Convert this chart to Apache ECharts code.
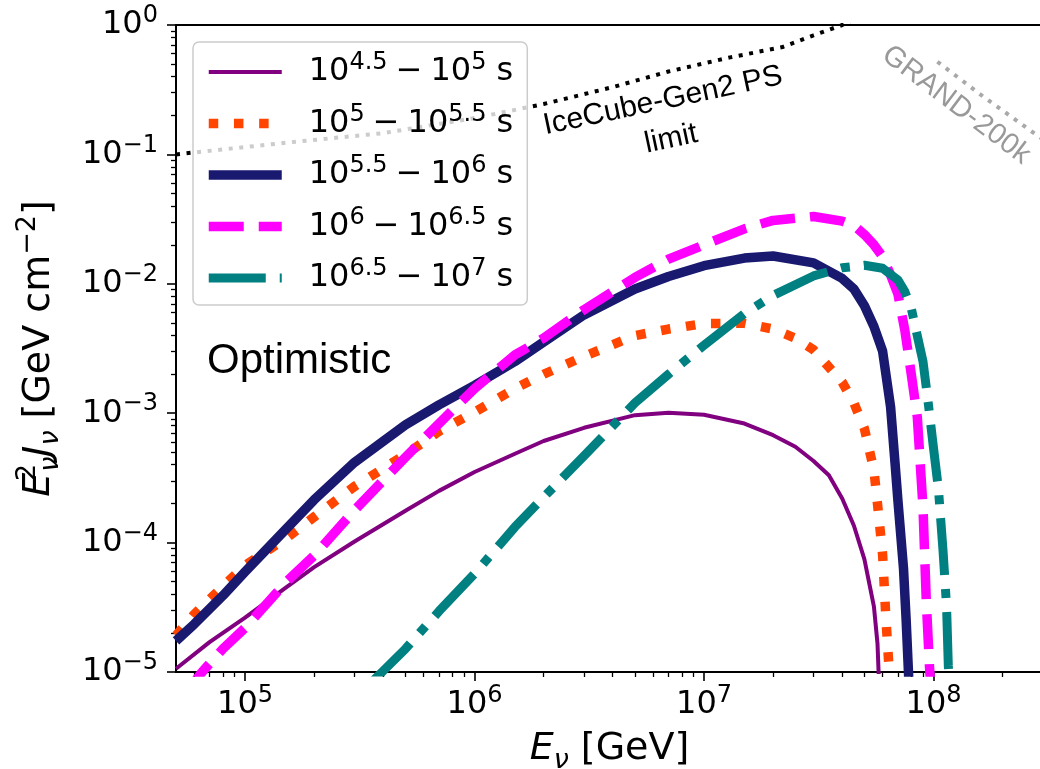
<!doctype html>
<html>
<head>
<meta charset="UTF-8">
<title>Optimistic</title>
<script src="https://cdn.jsdelivr.net/npm/echarts@6/dist/echarts.min.js"></script>
<style>
  html, body { margin: 0; padding: 0; background: #fff; }
  #main { width: 1040px; height: 769px; }
</style>
</head>
<body>
<div id="main"></div>
<script>
// energies in GeV, fluxes E^2 J in GeV cm^-2
var ePurple = [5e4, 7e4, 1e5, 1.5e5, 2e5, 3e5, 5e5, 7e5, 1e6, 1.5e6, 2e6, 3e6, 5e6, 7e6, 1e7, 1.5e7, 2e7, 2.5e7, 3e7, 3.5e7, 4e7, 4.5e7, 5e7, 5.5e7, 5.7e7, 5.8e7];
var fPurple = [1.06e-5, 1.70e-5, 2.63e-5, 4.47e-5, 6.46e-5, 1.02e-4, 1.76e-4, 2.51e-4, 3.51e-4, 4.86e-4, 6.10e-4, 7.71e-4, 9.66e-4, 1.01e-3, 9.72e-4, 8.32e-4, 6.76e-4, 5.5e-4, 4.27e-4, 3.31e-4, 2.19e-4, 1.35e-4, 7.41e-5, 3.2e-5, 1.66e-5, 7.5e-6];

var eOrange = [5e4, 6e4, 8e4, 1e5, 1.5e5, 2e5, 3e5, 5e5, 7e5, 1e6, 1.5e6, 2e6, 3e6, 5e6, 7e6, 1e7, 1.5e7, 2e7, 2.5e7, 3e7, 4e7, 4.5e7, 5e7, 5.5e7, 5.7e7, 6e7, 6.2e7, 6.4e7, 6.5e7];
var fOrange = [1.91e-5, 2.79e-5, 4.57e-5, 6.68e-5, 1.07e-4, 1.58e-4, 2.72e-4, 4.79e-4, 7.24e-4, 1.02e-3, 1.55e-3, 2.0e-3, 2.75e-3, 3.98e-3, 4.47e-3, 4.93e-3, 4.95e-3, 4.47e-3, 3.8e-3, 3.09e-3, 1.74e-3, 1.2e-3, 7.59e-4, 3.63e-4, 2.0e-4, 8.1e-5, 2.63e-5, 1.07e-5, 6.3e-6];

var eNavy = [5e4, 6e4, 8e4, 1e5, 1.5e5, 2e5, 3e5, 5e5, 7e5, 1e6, 1.5e6, 2e6, 3e6, 5e6, 7e6, 1e7, 1.5e7, 2e7, 3e7, 4e7, 4.5e7, 5e7, 5.5e7, 6e7, 6.5e7, 6.8e7, 7e7, 7.4e7, 7.6e7, 7.8e7];
var fNavy = [1.74e-5, 2.34e-5, 3.89e-5, 5.96e-5, 1.26e-4, 2.14e-4, 4.17e-4, 8.13e-4, 1.16e-3, 1.64e-3, 2.51e-3, 3.55e-3, 5.75e-3, 9.12e-3, 1.14e-2, 1.38e-2, 1.58e-2, 1.64e-2, 1.45e-2, 1.10e-2, 9.12e-3, 6.76e-3, 4.68e-3, 3.02e-3, 1.12e-3, 4.07e-4, 2.09e-4, 6.31e-5, 2.51e-5, 8.9e-6];

var eMagenta = [5.6e4, 6.5e4, 8e4, 1e5, 1.5e5, 2e5, 3e5, 5e5, 7e5, 1e6, 1.5e6, 2e6, 3e6, 5e6, 7e6, 1e7, 1.5e7, 2e7, 3e7, 4e7, 4.5e7, 5e7, 5.5e7, 6e7, 6.5e7, 7e7, 7.5e7, 8e7, 8.5e7, 9e7, 9.3e7, 9.6e7, 9.8e7];
var fMagenta = [7.1e-6, 1.0e-5, 1.51e-5, 2.19e-5, 4.9e-5, 7.94e-5, 1.78e-4, 4.57e-4, 8.32e-4, 1.55e-3, 2.82e-3, 3.80e-3, 6.31e-3, 1.12e-2, 1.55e-2, 2.0e-2, 2.66e-2, 3.09e-2, 3.31e-2, 3.05e-2, 2.82e-2, 2.40e-2, 2.0e-2, 1.62e-2, 1.17e-2, 8.32e-3, 4.37e-3, 2.0e-3, 9.33e-4, 1.86e-4, 3.55e-5, 1.12e-5, 6.3e-6];

var eTeal = [3.5e5, 4e5, 5e5, 7e5, 1e6, 1.5e6, 2e6, 3e6, 5e6, 7e6, 1e7, 1.5e7, 2e7, 3e7, 4e7, 5e7, 6e7, 7e7, 7.5e7, 8e7, 9e7, 9.5e7, 1e8, 1.05e8, 1.1e8, 1.14e8, 1.16e8, 1.18e8];
var fTeal = [8.1e-6, 1.02e-5, 1.51e-5, 2.95e-5, 5.75e-5, 1.32e-4, 2.24e-4, 4.68e-4, 1.20e-3, 2.0e-3, 3.35e-3, 5.89e-3, 8.13e-3, 1.15e-2, 1.33e-2, 1.39e-2, 1.32e-2, 1.07e-2, 8.7e-3, 6.46e-3, 2.51e-3, 1.17e-3, 5.37e-4, 2.63e-4, 8.71e-5, 3.2e-5, 1.12e-5, 6.3e-6];

// sensitivity curves
var eIceCube = [5e4, 1.5e5, 4e5, 1e6, 2e6, 4e6, 7e6, 1.3e7, 2.2e7, 3e7, 4e7, 4.5e7];
var fIceCube = [0.100, 0.123, 0.146, 0.191, 0.245, 0.331, 0.437, 0.562, 0.676, 0.832, 1.0, 1.1];
var eGrand = [1.04e8, 1.65e8, 2.9e8, 3.1e8];
var fGrand = [0.52, 0.279, 0.136, 0.126];

// legend entries: [10^a, 10^b] time windows
var seriesNames = ['t1', 't2', 't3', 't4', 't5'];
var windowFrom = ['4.5', '5', '5.5', '6', '6.5'];
var windowTo = ['5', '5.5', '6', '6.5', '7'];

// ticks
var xMajor = [1e5, 1e6, 1e7, 1e8];
var xMinor = [6e4, 7e4, 8e4, 9e4, 2e5, 3e5, 4e5, 5e5, 6e5, 7e5, 8e5, 9e5, 2e6, 3e6, 4e6, 5e6, 6e6, 7e6, 8e6, 9e6,
  2e7, 3e7, 4e7, 5e7, 6e7, 7e7, 8e7, 9e7, 2e8];
var yMajor = [1e-5, 1e-4, 1e-3, 1e-2, 1e-1, 1];
var yMinor = [2e-5, 3e-5, 4e-5, 5e-5, 6e-5, 7e-5, 8e-5, 9e-5, 2e-4, 3e-4, 4e-4, 5e-4, 6e-4, 7e-4, 8e-4, 9e-4,
  2e-3, 3e-3, 4e-3, 5e-3, 6e-3, 7e-3, 8e-3, 9e-3, 2e-2, 3e-2, 4e-2, 5e-2, 6e-2, 7e-2, 8e-2, 9e-2,
  0.2, 0.3, 0.4, 0.5, 0.6, 0.7, 0.8, 0.9];

var FONT = 'DejaVu Sans';

var tickRich = {
  b: { fontFamily: FONT, fontSize: 32, lineHeight: 42, color: '#000' },
  s: { fontFamily: FONT, fontSize: 24, lineHeight: 24, verticalAlign: 'top', color: '#000' }
};
var nameRich = {
  n: { fontFamily: FONT, fontSize: 38, lineHeight: 50, color: '#000' },
  i: { fontFamily: FONT, fontStyle: 'italic', fontSize: 38, lineHeight: 50, color: '#000' },
  sp: { fontFamily: FONT, fontSize: 27, lineHeight: 27, verticalAlign: 'top', color: '#000' },
  sp0: { fontFamily: FONT, fontSize: 27, lineHeight: 27, verticalAlign: 'top', color: '#000', width: 1 },
  sb: { fontFamily: FONT, fontStyle: 'italic', fontSize: 27, lineHeight: 27, verticalAlign: 'bottom', color: '#000' }
};
var legendRich = {
  g: { width: 22 },
  b: { fontFamily: FONT, fontSize: 32, lineHeight: 42, color: '#000' },
  s: { fontFamily: FONT, fontSize: 24, lineHeight: 24, verticalAlign: 'top', color: '#000' }
};

function powLabel(v) {
  var p = Math.round(Math.log10(v));
  return '{b|10}{s|' + (p < 0 ? '\u2212' + (-p) : p) + '}';
}

function line(name, e, f, color, width, dash) {
  return {
    type: 'line', name: name,
    data: e.map(function (x, i) { return [x, f[i]]; }),
    symbol: 'none', showSymbol: false,
    smooth: false,
    lineStyle: { color: color, width: width, type: dash, cap: 'butt', join: 'round' },
    itemStyle: { color: color },
    silent: true, clip: true
  };
}

var styles = [
  { color: '#800080', width: 4, type: 'solid' },
  { color: '#ff4500', width: 9.5, type: [9.5, 15.7] },
  { color: '#191970', width: 9.5, type: 'solid' },
  { color: '#ff00ff', width: 9.5, type: [35, 15] },
  { color: '#008080', width: 9, type: [57, 14, 9, 14] }
];

var chart = echarts.init(document.getElementById('main'));
var option = {
  animation: false,
  backgroundColor: '#fff',
  grid: [
    { left: 176, top: 25, right: -3, bottom: 97, show: true, borderColor: '#000', borderWidth: 2, backgroundColor: 'transparent', outerBoundsMode: 'none' },
    { left: 176, top: 25, right: -3, bottom: 97, outerBoundsMode: 'none' }
  ],
  xAxis: [
    {
      type: 'log', gridIndex: 0, min: 5e4, max: 3e8, position: 'bottom',
      axisLine: { show: false },
      axisTick: { show: true, inside: false, length: 9, lineStyle: { color: '#000', width: 1.6 }, customValues: xMajor },
      axisLabel: { customValues: xMajor, formatter: powLabel, margin: 12, rich: tickRich },
      splitLine: { show: false }, minorTick: { show: false },
      name: '{i|E}{sb|\u03bd}{n| [GeV]}', nameLocation: 'middle', nameGap: 52,
      nameTextStyle: { rich: nameRich }
    },
    {
      type: 'log', gridIndex: 1, min: 5e4, max: 3e8, position: 'bottom',
      axisLine: { show: false },
      axisTick: { show: true, inside: false, length: 5, lineStyle: { color: '#000', width: 1.3 }, customValues: xMinor },
      axisLabel: { show: false }, splitLine: { show: false }
    }
  ],
  yAxis: [
    {
      type: 'log', gridIndex: 0, min: 1e-5, max: 1, position: 'left',
      axisLine: { show: false },
      axisTick: { show: true, inside: false, length: 9, lineStyle: { color: '#000', width: 1.6 }, customValues: yMajor },
      axisLabel: { customValues: yMajor, formatter: powLabel, margin: 18, rich: tickRich },
      splitLine: { show: false }, minorTick: { show: false },
      name: '{i|E}{sp0|2}{sb|\u03bd}{i|J}{sb|\u03bd}{n| [GeV cm}{sp|\u22122}{n|]}',
      nameLocation: 'middle', nameRotate: 90, nameGap: 112,
      nameTextStyle: { rich: nameRich }
    },
    {
      type: 'log', gridIndex: 1, min: 1e-5, max: 1, position: 'left',
      axisLine: { show: false },
      axisTick: { show: true, inside: false, length: 5, lineStyle: { color: '#000', width: 1.3 }, customValues: yMinor },
      axisLabel: { show: false }, splitLine: { show: false }
    }
  ],
  legend: {
    orient: 'vertical', left: 193, top: 42,
    padding: [9, 14, 11, 11], itemGap: 14.5, itemWidth: 73, itemHeight: 14,
    backgroundColor: 'rgba(255,255,255,0.8)', borderColor: '#cccccc', borderWidth: 1.5, borderRadius: 6,
    selectedMode: false,
    data: seriesNames.map(function (n, i) {
      return {
        name: n,
        itemStyle: { opacity: 0, borderWidth: 0 },
        lineStyle: { color: styles[i].color, width: styles[i].width, type: styles[i].type, cap: 'butt' }
      };
    }),
    formatter: function (name) {
      var i = seriesNames.indexOf(name);
      return '{g| }{b|10}{s|' + windowFrom[i] + '}{b|\u2005\u2212\u200510}{s|' + windowTo[i] + '}{b| s}';
    },
    textStyle: { rich: legendRich }
  },
  graphic: [
    { type: 'text', x: 207, y: 361, z: 10, style: { text: 'Optimistic', font: '42px "Liberation Sans"', fill: '#000', textAlign: 'left', verticalAlign: 'middle' } },
    { type: 'text', x: 667, y: 120, z: 10, rotation: 12 * Math.PI / 180,
      style: { text: 'IceCube-Gen2 PS\nlimit', font: '30px "Liberation Sans"', lineHeight: 39, fill: '#000', textAlign: 'center', verticalAlign: 'middle' } },
    { type: 'text', x: 956, y: 105, z: 10, rotation: -37 * Math.PI / 180,
      style: { text: 'GRAND-200k', font: '29px "Liberation Sans"', fill: '#999999', textAlign: 'center', verticalAlign: 'middle' } }
  ],
  series: [
    line('IceCube-Gen2 PS limit', eIceCube, fIceCube, '#000', 4, [4, 6.6]),
    line('GRAND-200k', eGrand, fGrand, '#a9a9a9', 4, [4, 6.6]),
    line(seriesNames[0], ePurple, fPurple, styles[0].color, styles[0].width, styles[0].type),
    line(seriesNames[1], eOrange, fOrange, styles[1].color, styles[1].width, styles[1].type),
    line(seriesNames[2], eNavy, fNavy, styles[2].color, styles[2].width, styles[2].type),
    line(seriesNames[3], eMagenta, fMagenta, styles[3].color, styles[3].width, styles[3].type),
    line(seriesNames[4], eTeal, fTeal, styles[4].color, styles[4].width, styles[4].type)
  ]
};
chart.setOption(option);
</script>
</body>
</html>
